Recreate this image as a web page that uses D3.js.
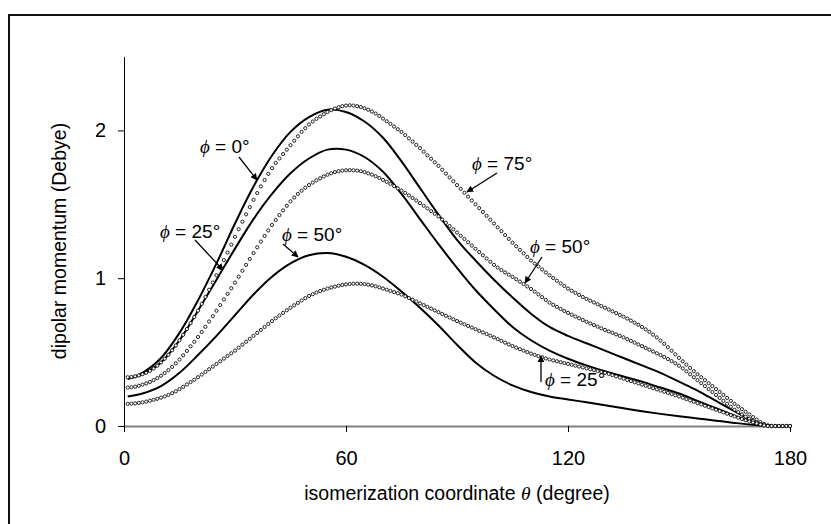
<!DOCTYPE html>
<html><head><meta charset="utf-8">
<script src="https://cdn.jsdelivr.net/npm/d3@7"></script>
<style>
body{margin:0;background:#fff;}
svg{display:block;font-family:"Liberation Sans",Arial,sans-serif;}
</style></head>
<body><svg id="c" width="831" height="524"></svg>
<script>
// theta (degree) for the solid curves and for the dotted (marker) curves
const thetaSolid = [1,5,10,15,20,25,30,35,40,45,50,55,60,65,70,75,80,85,90,95,100,105,110,115,120,125,130,135,140,145,150,155,160,165,170,175,180];
const thetaDot = d3.range(1,181);

// solid curves (phi = 0, 25, 50)
const solidPhi0  = [0.32,0.36,0.46,0.63,0.85,1.10,1.37,1.62,1.83,1.99,2.09,2.14,2.125,2.06,1.95,1.79,1.61,1.43,1.26,1.12,0.99,0.87,0.76,0.67,0.61,0.56,0.51,0.46,0.41,0.36,0.30,0.24,0.17,0.10,0.035,0.0,0.0];
const solidPhi25 = [0.32,0.35,0.43,0.58,0.78,0.99,1.20,1.40,1.57,1.71,1.81,1.87,1.87,1.82,1.72,1.57,1.40,1.23,1.07,0.92,0.79,0.67,0.58,0.51,0.455,0.41,0.37,0.335,0.30,0.26,0.22,0.17,0.12,0.07,0.025,0.0,0.0];
const solidPhi50 = [0.20,0.22,0.27,0.36,0.48,0.61,0.75,0.89,1.01,1.10,1.155,1.17,1.145,1.09,1.01,0.91,0.80,0.68,0.55,0.43,0.34,0.275,0.23,0.20,0.18,0.16,0.14,0.12,0.10,0.082,0.066,0.051,0.036,0.021,0.008,0.0,0.0];

// dotted curves (phi = 75, 50, 25), one value per degree from 1 to 180
const dotPhi75 = [0.330,0.332,0.336,0.342,0.35,0.36,0.373,0.389,0.408,0.43,0.455,0.482,0.512,0.545,0.58,0.617,0.656,0.696,0.737,0.78,
0.826,0.873,0.922,0.971,1.02,1.071,1.122,1.174,1.227,1.28,1.331,1.382,1.432,1.481,1.53,1.576,1.621,1.664,1.706,1.745,
1.78,1.81,1.84,1.87,1.90,1.93,1.96,1.99,2.015,2.04,2.06,2.078,2.094,2.11,2.124,2.137,2.148,2.157,2.164,2.168,
2.17,2.168,2.164,2.158,2.15,2.14,2.128,2.114,2.098,2.08,2.062,2.044,2.026,2.008,1.99,1.968,1.946,1.924,1.902,1.88,
1.856,1.832,1.808,1.784,1.76,1.734,1.708,1.682,1.656,1.63,1.604,1.578,1.552,1.526,1.50,1.474,1.448,1.422,1.396,1.37,
1.344,1.318,1.292,1.266,1.24,1.216,1.192,1.168,1.144,1.12,1.099,1.079,1.059,1.039,1.02,1.001,0.983,0.965,0.947,0.93,
0.915,0.901,0.887,0.873,0.86,0.848,0.836,0.824,0.812,0.80,0.788,0.776,0.764,0.752,0.74,0.727,0.713,0.699,0.685,0.67,
0.654,0.637,0.618,0.599,0.578,0.556,0.533,0.509,0.485,0.461,0.438,0.415,0.393,0.371,0.35,0.33,0.31,0.29,0.27,0.25,
0.23,0.21,0.19,0.17,0.15,0.132,0.114,0.096,0.078,0.06,0.043,0.027,0.014,0.005,0,0,0,0,0,0];
const dotPhi50 = [0.260,0.262,0.266,0.272,0.28,0.288,0.298,0.31,0.324,0.34,0.358,0.378,0.40,0.424,0.45,0.478,0.508,0.539,0.57,0.602,
0.636,0.671,0.707,0.743,0.78,0.818,0.856,0.894,0.932,0.97,1.01,1.05,1.09,1.13,1.17,1.209,1.248,1.286,1.323,1.36,
1.394,1.427,1.459,1.49,1.52,1.546,1.57,1.592,1.612,1.63,1.647,1.662,1.676,1.689,1.70,1.71,1.718,1.724,1.728,1.73,
1.731,1.73,1.728,1.724,1.718,1.71,1.701,1.69,1.678,1.665,1.652,1.638,1.623,1.608,1.593,1.577,1.56,1.543,1.526,1.508,
1.49,1.472,1.454,1.436,1.418,1.397,1.375,1.353,1.331,1.309,1.287,1.265,1.243,1.221,1.199,1.177,1.155,1.133,1.111,1.09,
1.072,1.055,1.039,1.024,1.009,0.993,0.977,0.961,0.944,0.927,0.909,0.891,0.872,0.853,0.835,0.82,0.806,0.792,0.778,0.765,
0.753,0.741,0.729,0.717,0.705,0.694,0.683,0.672,0.661,0.65,0.64,0.63,0.62,0.61,0.60,0.588,0.576,0.564,0.552,0.54,
0.528,0.516,0.504,0.492,0.48,0.467,0.453,0.439,0.424,0.408,0.39,0.37,0.35,0.33,0.31,0.29,0.27,0.25,0.23,0.21,
0.19,0.17,0.15,0.13,0.11,0.094,0.078,0.063,0.049,0.036,0.024,0.013,0.005,0,0,0,0,0,0,0];
const dotPhi25 = [0.150,0.151,0.153,0.156,0.16,0.165,0.171,0.177,0.184,0.192,0.20,0.21,0.222,0.235,0.25,0.265,0.281,0.297,0.313,0.33,
0.348,0.366,0.384,0.402,0.42,0.438,0.456,0.474,0.492,0.51,0.53,0.55,0.57,0.59,0.61,0.63,0.65,0.67,0.69,0.71,
0.729,0.747,0.765,0.783,0.80,0.817,0.833,0.849,0.865,0.88,0.892,0.903,0.913,0.922,0.93,0.937,0.943,0.949,0.954,0.958,
0.961,0.963,0.963,0.962,0.96,0.956,0.951,0.945,0.938,0.93,0.922,0.914,0.906,0.898,0.889,0.878,0.866,0.854,0.842,0.83,
0.818,0.806,0.794,0.782,0.77,0.758,0.746,0.734,0.722,0.71,0.699,0.688,0.677,0.666,0.655,0.644,0.633,0.622,0.611,0.60,
0.588,0.576,0.564,0.552,0.541,0.53,0.52,0.51,0.50,0.49,0.481,0.473,0.465,0.457,0.45,0.444,0.438,0.432,0.426,0.42,
0.414,0.408,0.402,0.396,0.39,0.384,0.378,0.372,0.366,0.36,0.352,0.344,0.336,0.328,0.32,0.312,0.304,0.296,0.288,0.28,
0.272,0.264,0.256,0.248,0.24,0.232,0.224,0.216,0.208,0.20,0.191,0.182,0.173,0.164,0.155,0.146,0.137,0.128,0.119,0.11,
0.101,0.092,0.083,0.074,0.065,0.056,0.047,0.039,0.031,0.024,0.017,0.01,0.004,0,0,0,0,0,0,0];

const xTicks = [0,60,120,180];
const yTicks = [0,1,2];
const xTitle = ["isomerization coordinate ", "θ", " (degree)"];
const yTitle = "dipolar momentum (Debye)";
const notes = [
  {txt:"0°",  lx:200, ly:153, ax1:239, ay1:157, ax2:257, ay2:180},
  {txt:"25°", lx:160, ly:238, ax1:195, ay1:240, ax2:223, ay2:270},
  {txt:"50°", lx:282, ly:241, ax1:283, ay1:244, ax2:298, ay2:257},
  {txt:"75°", lx:472, ly:170, ax1:497, ay1:173, ax2:467, ay2:192},
  {txt:"50°", lx:530, ly:253, ax1:542, ay1:257, ax2:525, ay2:283},
  {txt:"25°", lx:545, ly:386, ax1:541, ay1:382, ax2:541, ay2:356}
];

const svg = d3.select("#c");
const x = d3.scaleLinear().domain([0,180]).range([124,790]);
const y = d3.scaleLinear().domain([0,2.5]).range([426,56.5]);

// outer frame
svg.append("path").attr("d","M9,530V15H840").attr("fill","none").attr("stroke","#111").attr("stroke-width",2);

// axes
const gx = svg.append("g").attr("transform","translate(0,426)")
  .call(d3.axisBottom(x).tickValues(xTicks).tickSize(6).tickSizeOuter(0).tickPadding(19).tickFormat(d3.format("d")));
gx.select(".domain").attr("stroke","#808080").attr("stroke-width",2);
gx.selectAll(".tick line").attr("stroke","#000");
gx.selectAll("text").attr("font-size",20).attr("font-family","Liberation Sans, Arial").attr("fill","#000");

const gy = svg.append("g").attr("transform","translate(124,0)")
  .call(d3.axisLeft(y).tickValues(yTicks).tickSize(6).tickSizeOuter(0).tickPadding(12).tickFormat(d3.format("d")));
gy.select(".domain").attr("stroke","#000").attr("stroke-width",1);
gy.selectAll(".tick line").attr("stroke","#000");
gy.selectAll("text").attr("font-size",20).attr("font-family","Liberation Sans, Arial").attr("fill","#000");

// titles
const xt = svg.append("text").attr("x",457).attr("y",500).attr("text-anchor","middle").attr("font-size",19.5);
xt.append("tspan").text(xTitle[0]);
xt.append("tspan").text(xTitle[1]).attr("font-style","italic").attr("font-family","Liberation Serif, Times New Roman, serif");
xt.append("tspan").text(xTitle[2]);
svg.append("text").attr("transform","translate(66,241) rotate(-90)").attr("text-anchor","middle").attr("font-size",19.5).text(yTitle);

// series
const line = d3.line().x(d=>x(d[0])).y(d=>y(d[1])).curve(d3.curveCatmullRom.alpha(0.5));
[solidPhi0, solidPhi25, solidPhi50].forEach(vals=>{
  svg.append("path").datum(thetaSolid.map((t,i)=>[t,vals[i]]))
    .attr("d",line).attr("fill","none").attr("stroke","#000").attr("stroke-width",2);
});
[dotPhi75, dotPhi50, dotPhi25].forEach(vals=>{
  svg.append("g").selectAll("circle").data(thetaDot.map((t,i)=>[t,vals[i]])).join("circle")
    .attr("cx",d=>x(d[0])).attr("cy",d=>y(d[1])).attr("r",1.6)
    .attr("fill","#fff").attr("stroke","#000").attr("stroke-width",0.85);
});

// arrowhead
svg.append("defs").append("marker").attr("id","ah").attr("viewBox","0 0 10 10")
  .attr("refX",9).attr("refY",5).attr("markerWidth",7).attr("markerHeight",7)
  .attr("markerUnits","userSpaceOnUse").attr("orient","auto")
  .append("path").attr("d","M0,0L10,5L0,10z").attr("fill","#000");

notes.forEach(n=>{
  svg.append("line").attr("x1",n.ax1).attr("y1",n.ay1).attr("x2",n.ax2).attr("y2",n.ay2)
    .attr("stroke","#000").attr("stroke-width",1.3).attr("marker-end","url(#ah)");
  const t = svg.append("text").attr("x",n.lx).attr("y",n.ly).attr("font-size",19);
  t.append("tspan").text("ϕ").attr("font-style","italic").attr("font-family","Liberation Serif, Times New Roman, serif");
  t.append("tspan").text(" = "+n.txt);
});
</script></body></html>
